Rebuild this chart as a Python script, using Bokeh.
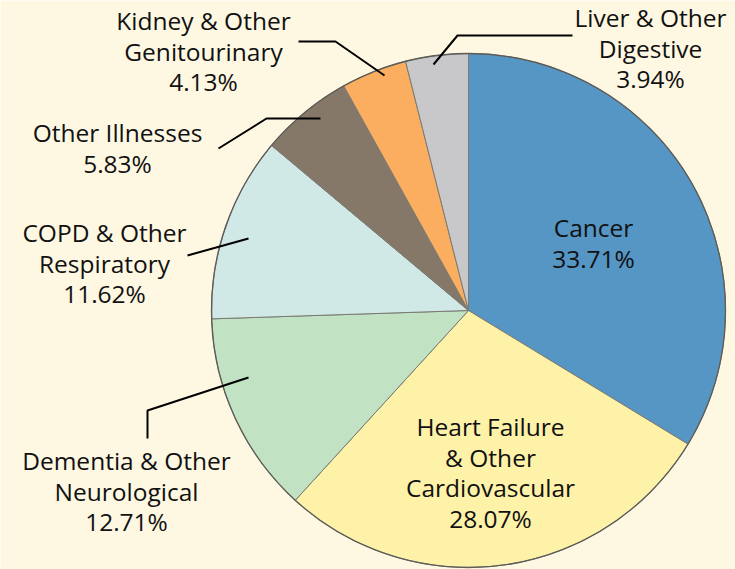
import numpy as np
from bokeh.plotting import figure
from bokeh.models import ColumnDataSource, Range1d
from bokeh.core.properties import value
from bokeh.embed import file_html
from bokeh.resources import INLINE

# ---- data ----
categories = ["Cancer", "Heart Failure\n& Other\nCardiovascular", "Dementia & Other\nNeurological",
              "COPD & Other\nRespiratory", "Other Illnesses", "Kidney & Other\nGenitourinary",
              "Liver & Other\nDigestive"]
shares = [33.71, 28.07, 12.71, 11.62, 5.83, 4.13, 3.94]
pct_labels = ["33.71%", "28.07%", "12.71%", "11.62%", "5.83%", "4.13%", "3.94%"]

# ---- styles / layout ----
colors = ["#5596C5", "#FEF2A9", "#C2E2C4", "#D0E9E7", "#857869", "#FBAE5F", "#C8C8CA"]
bg = "#FEF8E3"
W, H = 735, 569


def tx(px):
    return px


def ty(py):
    return H - py


cx, cy, R = tx(468), ty(310), 257

# label anchors: center x, first-line middle y (screen px)
label_pos = [(593, 227), (490, 426), (126, 460), (104, 232), (117, 132), (203, 20), (650, 17)]
line_gap = 30.5
# leader polylines (screen px)
leaders = [
    [(433, 64), (457, 35), (572, 35)],
    [(384, 75), (335, 41), (298, 41)],
    [(320, 118), (266, 118), (218, 148)],
    [(248, 238), (187, 255)],
    [(248, 377), (147, 410), (147, 438)],
]

p = figure(width=W, height=H, x_range=Range1d(0, W), y_range=Range1d(0, H),
           x_axis_type=None, y_axis_type=None, toolbar_location=None,
           output_backend="svg", min_border=0, background_fill_color=bg,
           border_fill_color=bg, outline_line_color=None)
p.grid.visible = False

frac = np.array(shares) / np.sum(shares)
cum = np.concatenate([[0], np.cumsum(frac)])
start = np.pi / 2 - 2 * np.pi * cum[1:]
end = np.pi / 2 - 2 * np.pi * cum[:-1]
src = ColumnDataSource(dict(start=start, end=end, color=colors))
p.wedge(x=cx, y=cy, radius=R, start_angle="start", end_angle="end",
        direction="anticlock", fill_color="color", line_color="#7a7a72",
        line_width=1, source=src)
# darker rim
p.circle(x=cx, y=cy, radius=R, fill_color=None, line_color="#5c5c58", line_width=1.3)

# leader lines
p.multi_line(xs=[[tx(a) for a, b in L] for L in leaders],
             ys=[[ty(b) for a, b in L] for L in leaders],
             line_color="black", line_width=2)

# labels
xs, ys, texts = [], [], []
for cat, pct, (lx, ly) in zip(categories, pct_labels, label_pos):
    lines = cat.split("\n") + [pct]
    for i, t in enumerate(lines):
        xs.append(tx(lx))
        ys.append(ty(ly + i * line_gap))
        texts.append(t)
p.text(x=xs, y=ys, text=texts, text_font=value("Open Sans"), text_font_size="24.5px",
       text_align="center", text_baseline="middle", text_color="#111111")

open("out.html", "w").write(file_html(p, INLINE))
